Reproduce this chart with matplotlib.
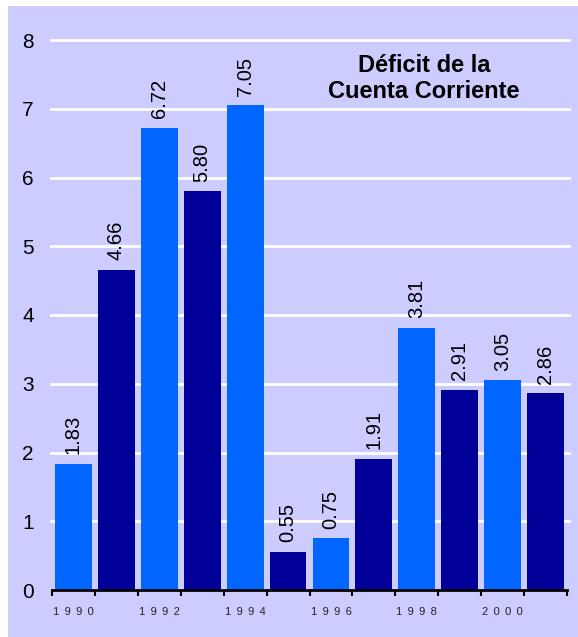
import matplotlib
matplotlib.use("Agg")
import matplotlib.pyplot as plt
from matplotlib.patches import Rectangle
import numpy as np

years = [1990, 1991, 1992, 1993, 1994, 1995, 1996, 1997, 1998, 1999, 2000, 2001]
values = [1.83, 4.66, 6.72, 5.80, 7.05, 0.55, 0.75, 1.91, 3.81, 2.91, 3.05, 2.86]
labels = ["1.83", "4.66", "6.72", "5.80", "7.05", "0.55", "0.75", "1.91", "3.81", "2.91", "3.05", "2.86"]
tick_years = ["1990", "1992", "1994", "1996", "1998", "2000"]
yticks = [0, 1, 2, 3, 4, 5, 6, 7, 8]
title_lines = ["Déficit de la", "Cuenta Corriente"]

light = "#0066FF"
dark = "#000099"
bg = "#CCCCFF"

plt.rcParams['font.family'] = ['Liberation Sans', 'DejaVu Sans']

W, H = 578, 637
fig = plt.figure(figsize=(W / 100, H / 100), dpi=100, facecolor="white")
fig.patches.append(Rectangle((8 / W, 0), 1 - 8 / W, 1 - 6 / H, transform=fig.transFigure,
                             facecolor=bg, edgecolor="none", zorder=-10))

ax = fig.add_axes([52 / W, 1 - 590 / H, (567 - 52) / W, (590 - 40) / H])
ax.set_facecolor("none")
ax.set_zorder(1)

x = np.arange(len(years))
colors = [light if i % 2 == 0 else dark for i in range(len(years))]
ax.bar(x, values, width=0.86, color=colors, zorder=2)

for xi, v, lab in zip(x, values, labels):
    ax.annotate(lab, (xi, v), xytext=(0, 7), textcoords="offset points",
                rotation=90, ha="center", va="bottom", fontsize=14.5, color="black")

ax.set_xlim(-0.5, len(years) - 0.5)
ax.set_ylim(0, 8)
ax.set_yticks(yticks)
ax.set_yticklabels([str(t) for t in yticks], fontsize=15)
ax.tick_params(axis="y", length=0, pad=13)
for t in yticks[1:]:
    ax.plot([-0.52, len(years) - 0.45], [t, t], color="white", lw=2, zorder=1, clip_on=False)

ax.set_xticks(np.arange(len(years) + 1) - 0.5)
ax.set_xticklabels([])
ax.tick_params(axis="x", which="major", length=4, width=1.5, direction="out", color="black")
ax.set_xticks(np.arange(0, len(years), 2), minor=True)
ax.set_xticklabels([" \u2009".join(list(s)) for s in tick_years], minor=True, fontsize=8,
                   color="#222222")
ax.tick_params(axis="x", which="minor", length=0, pad=12)

for s in ["top", "right", "left"]:
    ax.spines[s].set_visible(False)
ax.spines["bottom"].set_linewidth(2)
ax.spines["bottom"].set_zorder(3)

fig.text(424 / W, 1 - 72 / H, title_lines[0], ha="center", va="baseline",
         fontsize=17, fontweight="bold")
fig.text(424 / W, 1 - 98 / H, title_lines[1], ha="center", va="baseline",
         fontsize=17, fontweight="bold")

fig.savefig("out.png", dpi=100, facecolor="white")
